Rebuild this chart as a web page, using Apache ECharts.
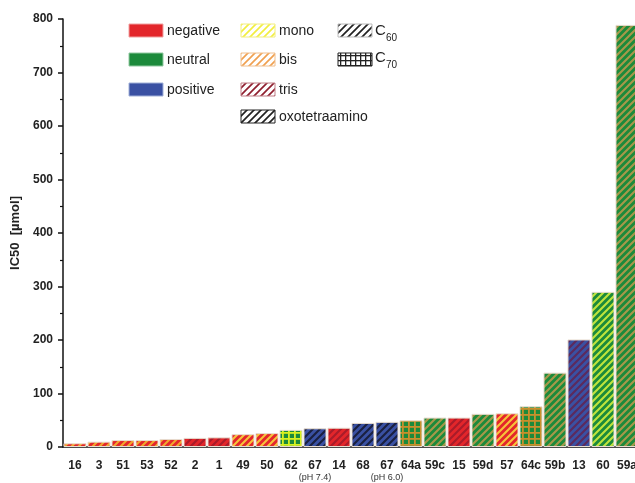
<!DOCTYPE html>
<html>
<head>
<meta charset="utf-8">
<script src="https://cdn.jsdelivr.net/npm/echarts@6/dist/echarts.min.js"></script>
<style>
  html, body { margin: 0; padding: 0; background: #fff; }
  #chart { width: 635px; height: 483px; }
</style>
</head>
<body>
<div id="chart"></div>
<script>
// compounds, sorted by IC50
const categories = ["16", "3", "51", "53", "52", "2", "1", "49", "50", "62", "67\n{s|(pH 7.4)}", "14",
  "68", "67\n{s|(pH 6.0)}", "64a", "59c", "15", "59d", "57", "64c", "59b", "13", "60", "59a"];
const ic50 = [7, 10, 13, 13, 15, 17, 18, 24, 26, 32, 35, 36, 45, 47, 50, 55, 55, 62, 63, 76, 139, 201, 290, 789];
// charge: neg / neu / pos
const charge = ["neg", "neg", "neg", "neg", "neg", "neg", "neg", "neg", "neg", "neu", "pos", "neg",
  "pos", "pos", "neu", "neu", "neg", "neu", "neg", "neu", "neu", "pos", "neu", "neu"];
// adduct: mono / bis / tris / oxo
const adduct = ["bis", "bis", "bis", "bis", "bis", "tris", "tris", "mono", "mono", "mono", "oxo", "tris",
  "oxo", "oxo", "bis", "bis", "tris", "bis", "mono", "bis", "bis", "tris", "mono", "bis"];
// fullerene: C60 / C70
const cage = ["C60", "C60", "C60", "C60", "C60", "C60", "C60", "C60", "C60", "C70", "C60", "C60",
  "C60", "C60", "C70", "C60", "C60", "C60", "C60", "C70", "C60", "C60", "C60", "C60"];
const yTicks = { min: 0, max: 800, step: 100 };

const baseColor = { neg: "#e3262b", neu: "#1c8a3b", pos: "#3a51a3" };
// stripe colour seen on top of each base colour
const stripeColor = {
  neg: { mono: "#f6c43a", bis: "#f0a82c", tris: "#a81c2a", oxo: "#222" },
  neu: { mono: "#c0e43c", bis: "#a8984a", tris: "#602028", oxo: "#222" },
  pos: { mono: "#c8d040", bis: "#a08060", tris: "#5c2a5c", oxo: "#1a2040" }
};
const gridColor = { mono: "#d8f020", bis: "#c8902c", tris: "#802030", oxo: "#222" };

function hatch(bg, fg, size, lw) {
  const s = size || 6;
  const c = document.createElement("canvas");
  c.width = s; c.height = s;
  const ctx = c.getContext("2d");
  ctx.fillStyle = bg;
  ctx.fillRect(0, 0, s, s);
  ctx.strokeStyle = fg;
  ctx.lineWidth = lw || 1.9;
  ctx.beginPath();
  ctx.moveTo(0, s); ctx.lineTo(s, 0);
  ctx.moveTo(-2, 2); ctx.lineTo(2, -2);
  ctx.moveTo(s - 2, s + 2); ctx.lineTo(s + 2, s - 2);
  ctx.stroke();
  return { image: c, repeat: "repeat" };
}

function grid(bg, fg, size, lw) {
  const s = size || 6;
  const c = document.createElement("canvas");
  c.width = s; c.height = s;
  const ctx = c.getContext("2d");
  ctx.fillStyle = bg;
  ctx.fillRect(0, 0, s, s);
  ctx.fillStyle = fg;
  ctx.fillRect(0, 0, lw || 1.6, s);
  ctx.fillRect(0, 0, s, lw || 1.6);
  return { image: c, repeat: "repeat" };
}

const barData = ic50.map((v, i) => {
  const bg = baseColor[charge[i]];
  const fill = cage[i] === "C70"
    ? grid(bg, gridColor[adduct[i]], 6, 1.8)
    : hatch(bg, stripeColor[charge[i]][adduct[i]], 7, 2.1);
  return { value: v, itemStyle: { color: fill } };
});

// legend, drawn by hand
const font = "'Liberation Sans', Arial, sans-serif";
const textStyle = { fill: "#222", font: "14px " + font };
function sw(x, y, fill, stroke) {
  return { type: "rect", shape: { x: x, y: y, width: 34, height: 13 }, style: { fill: fill, stroke: stroke, lineWidth: 1 } };
}
function lbl(x, y, t) {
  return { type: "text", x: x, y: y, style: Object.assign({ text: t, verticalAlign: "middle" }, textStyle) };
}
const legendItems = [
  sw(129, 24, "#e3262b", "#f0a0a0"), lbl(167, 31, "negative"),
  sw(129, 53, "#1c8a3b", "#90c8a0"), lbl(167, 60, "neutral"),
  sw(129, 83, "#3a51a3", "#a0b0d8"), lbl(167, 90, "positive"),
  sw(241, 24, hatch("#fff", "#f2ee40", 7, 1.7), "#f2ee80"), lbl(279, 31, "mono"),
  sw(241, 53, hatch("#fff", "#f0a050", 7, 1.7), "#f0c090"), lbl(279, 60, "bis"),
  sw(241, 83, hatch("#fff", "#902030", 7, 1.7), "#c08088"), lbl(279, 90, "tris"),
  sw(241, 110, hatch("#fff", "#222", 7, 1.7), "#222"), lbl(279, 117, "oxotetraamino"),
  sw(338, 24, hatch("#fff", "#222", 7, 1.7), "#bbb"),
  { type: "text", x: 375, y: 31, style: { text: "C", verticalAlign: "middle", fill: "#222", font: "15px " + font } },
  { type: "text", x: 386, y: 38, style: { text: "60", verticalAlign: "middle", fill: "#222", font: "10px " + font } },
  sw(338, 53, grid("#fff", "#222", 5, 1.3), "#222"),
  { type: "text", x: 375, y: 58, style: { text: "C", verticalAlign: "middle", fill: "#222", font: "15px " + font } },
  { type: "text", x: 386, y: 65, style: { text: "70", verticalAlign: "middle", fill: "#222", font: "10px " + font } }
];

const chart = echarts.init(document.getElementById("chart"), null, { renderer: "canvas" });
const option = {
  animation: false,
  grid: { left: 63, width: 576, top: 19, bottom: 36, outerBoundsMode: "none" },
  xAxis: {
    type: "category",
    data: categories,
    axisLine: { lineStyle: { color: "#111", width: 1.5 } },
    axisTick: { alignWithLabel: true, length: 7, lineStyle: { color: "#111", width: 1.5 } },
    axisLabel: {
      interval: 0,
      margin: 12,
      color: "#222",
      fontWeight: "bold",
      fontSize: 12,
      fontFamily: font,
      lineHeight: 13,
      rich: { s: { fontSize: 9, fontWeight: "normal", color: "#333", lineHeight: 11 } }
    }
  },
  yAxis: {
    type: "value",
    min: yTicks.min,
    max: yTicks.max,
    interval: yTicks.step,
    name: "IC50  [µmol]",
    nameLocation: "middle",
    nameGap: 41,
    nameTextStyle: { color: "#222", fontWeight: "bold", fontSize: 13, fontFamily: font },
    axisLine: { show: true, lineStyle: { color: "#111", width: 1.5 } },
    axisTick: { show: true, length: 5, lineStyle: { color: "#111", width: 1.5 } },
    minorTick: { show: true, splitNumber: 2, length: 3, lineStyle: { color: "#111", width: 1.2 } },
    splitLine: { show: false },
    axisLabel: { color: "#222", fontWeight: "bold", fontSize: 12, margin: 10, fontFamily: font }
  },
  series: [{
    type: "bar",
    data: barData,
    barCategoryGap: "4%",
    itemStyle: { borderColor: "#e8ddd0", borderWidth: 1 }
  }],
  graphic: legendItems
};
chart.setOption(option);
</script>
</body>
</html>
